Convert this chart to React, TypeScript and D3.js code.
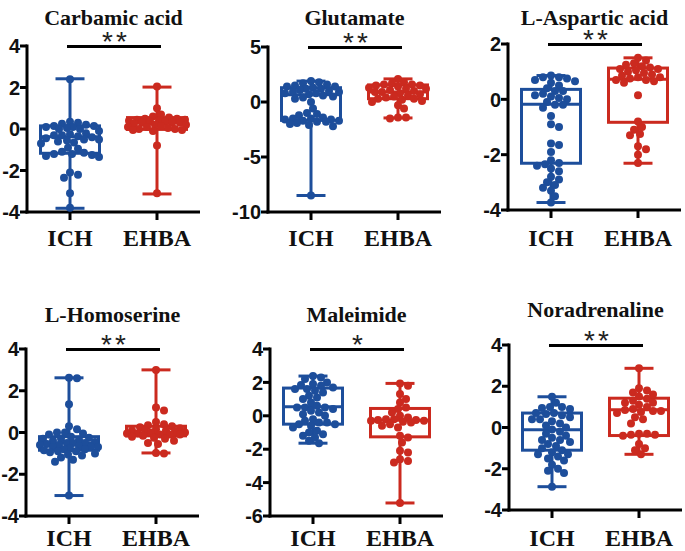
import React from 'react';
import * as d3 from 'd3';

const titles = ['Carbamic acid', 'Glutamate', 'L-Aspartic acid', 'L-Homoserine', 'Maleimide', 'Noradrenaline'];
const groups = ['ICH', 'EHBA'];
const significance = ['**', '**', '**', '**', '*', '**'];
const yDomains = [[-4, 4], [-10, 5], [-4, 2], [-4, 4], [-6, 4], [-4, 4]];
const yTicks = [[-4, -2, 0, 2, 4], [-10, -5, 0, 5], [-4, -2, 0, 2], [-4, -2, 0, 2, 4], [-6, -4, -2, 0, 2, 4], [-4, -2, 0, 2, 4]];

// box stats: [min, q1, median, q3, max]
const ichStats = [
  [-3.82, -1.17, -0.37, 0.15, 2.42],
  [-8.5, -1.67, 0.67, 1.3, 1.9],
  [-3.73, -2.31, -0.18, 0.36, 0.86],
  [-3.02, -0.85, -0.5, -0.2, 2.62],
  [-1.64, -0.5, 0.54, 1.66, 2.38],
  [-2.87, -1.1, -0.11, 0.7, 1.49],
];
const ehbaStats = [
  [-3.13, -0.02, 0.3, 0.55, 2.02],
  [-1.45, 0.3, 0.9, 1.55, 2.1],
  [-2.31, -0.83, 0.73, 1.13, 1.5],
  [-0.98, -0.16, -0.05, 0.3, 3.0],
  [-5.22, -1.26, -0.26, 0.44, 1.94],
  [-1.3, -0.39, 0.86, 1.42, 2.87],
];

const ichValues = [
  [2.4, -3.8, -3.1, -2.35, -2.2, -2.1, -1.35, -1.3, -1.25, -1.2, -1.2, -1.15, -1.1, -0.95, -0.9, -0.7, -0.65, -0.6, -0.55, -0.5, -0.5, -0.45, -0.4, -0.35, -0.3, -0.3, -0.25, -0.2, -0.1, 0.0, 0.0, 0.05, 0.1, 0.1, 0.15, 0.15, 0.2, 0.25, 0.3, 0.35],
  [-8.5, 1.9, 1.8, 1.7, 1.6, 1.5, 1.4, 1.3, 1.2, 1.1, 1.0, 0.9, 0.8, 0.7, 0.6, 0.5, 0.4, 0.3, 0.0, -1.0, -1.2, -1.1, -1.4, -1.5, -1.6, -1.6, -1.7, -1.7, -1.8, -1.8, -1.9, -2.0, -2.1, -2.2, -0.6, 1.2, 0.9, 1.4, 0.8, -1.5],
  [0.86, 0.8, 0.75, 0.7, 0.65, 0.6, 0.5, 0.4, 0.3, 0.2, 0.15, 0.1, 0.05, 0.0, -0.1, -0.2, -0.3, -0.6, -0.9, -1.0, -1.6, -1.65, -1.9, -2.2, -2.3, -2.35, -2.4, -2.5, -2.6, -2.8, -2.9, -3.0, -3.1, -3.2, -3.3, -3.5, -3.73, 0.8, 0.3, -0.2],
  [2.62, 2.6, 1.35, 0.3, 0.15, 0.0, 0.0, -0.05, -0.1, -0.2, -0.25, -0.3, -0.35, -0.4, -0.45, -0.5, -0.5, -0.55, -0.6, -0.6, -0.65, -0.7, -0.7, -0.75, -0.8, -0.8, -0.85, -0.9, -0.95, -1.0, -1.05, -1.1, -1.2, -1.3, -1.4, -3.02, -0.5, -0.7, -0.3, -0.9],
  [2.38, 2.3, 2.2, 2.0, 1.9, 1.85, 1.8, 1.7, 1.6, 1.5, 1.4, 1.2, 1.1, 1.0, 0.8, 0.6, 0.5, 0.5, 0.4, 0.3, 0.2, 0.1, 0.0, -0.2, -0.3, -0.4, -0.5, -0.5, -0.6, -0.7, -0.9, -1.0, -1.1, -1.2, -1.3, -1.5, -1.64, 1.6, 0.5, -0.4],
  [1.49, 1.2, 1.0, 1.0, 0.95, 0.9, 0.7, 0.65, 0.6, 0.5, 0.4, 0.3, 0.2, 0.1, 0.0, -0.1, -0.2, -0.3, -0.4, -0.5, -0.6, -0.7, -0.8, -0.9, -1.0, -1.1, -1.2, -1.3, -1.4, -1.5, -1.6, -1.8, -2.0, -2.1, -2.2, -2.87, 0.7, -0.6, -1.3, 0.4],
];
const ehbaValues = [
  [2.05, 1.0, 0.7, 0.6, 0.55, 0.5, 0.5, 0.45, 0.45, 0.4, 0.4, 0.35, 0.35, 0.3, 0.3, 0.25, 0.2, 0.2, 0.15, 0.1, 0.1, 0.05, 0.0, 0.0, -0.05, -0.05, -0.1, -0.8, -3.1, 0.3],
  [2.1, 1.8, 1.7, 1.6, 1.5, 1.5, 1.4, 1.3, 1.2, 1.1, 1.0, 0.9, 0.8, 0.7, 0.6, 0.5, 0.4, 0.3, 0.3, 0.2, 0.1, 0.0, -0.3, -0.6, -1.4, -1.4, -1.5, 1.6, 1.2, 0.9],
  [1.5, 1.4, 1.3, 1.25, 1.2, 1.15, 1.1, 1.05, 1.0, 0.95, 0.9, 0.85, 0.8, 0.75, 0.7, 0.65, 0.6, 0.15, -0.8, -1.0, -1.1, -1.25, -1.3, -1.7, -1.8, -2.0, -2.3, 1.1, 0.8, 0.7],
  [3.0, 1.2, 1.05, 0.5, 0.4, 0.35, 0.3, 0.25, 0.2, 0.15, 0.1, 0.1, 0.05, 0.0, 0.0, -0.05, -0.05, -0.1, -0.1, -0.15, -0.2, -0.25, -0.3, -0.4, -0.5, -0.55, -0.98, -1.0, 0.1, -0.1],
  [1.94, 1.8, 1.3, 1.0, 0.8, 0.5, 0.4, 0.2, 0.0, -0.1, -0.2, -0.2, -0.25, -0.3, -0.3, -0.35, -0.4, -0.5, -0.6, -0.7, -1.2, -1.3, -1.6, -2.1, -2.2, -2.6, -2.7, -2.8, -5.22, -0.25],
  [2.87, 1.9, 1.8, 1.7, 1.6, 1.5, 1.4, 1.3, 1.2, 1.1, 1.0, 0.9, 0.85, 0.8, 0.75, 0.7, 0.5, 0.4, 0.2, -0.3, -0.3, -0.35, -0.35, -0.4, -0.8, -1.0, -1.1, -1.3, 1.2, 0.8],
];

const groupColors = ['#1d4e9b', '#cb2a1f'];

// layout (pixel geometry of each panel)
const layout = [
  { axisX: 27, yTop: 46, yBottom: 212, titleY: 25, labelY: 246 },
  { axisX: 268, yTop: 47, yBottom: 212, titleY: 25, labelY: 246 },
  { axisX: 508, yTop: 44, yBottom: 210, titleY: 25, labelY: 246 },
  { axisX: 26, yTop: 349, yBottom: 516, titleY: 322, labelY: 546 },
  { axisX: 270, yTop: 349, yBottom: 516, titleY: 322, labelY: 546 },
  { axisX: 509, yTop: 345, yBottom: 510, titleY: 317, labelY: 546 },
];

const R = 4;
const HALF = 29;

function swarm(values: number[], y: (v: number) => number, cx: number) {
  const pts = values.map((v) => ({ v, py: y(v), px: cx }));
  pts.sort((a, b) => a.py - b.py);
  const placed: { px: number; py: number }[] = [];
  const minD = 2 * R * 0.85;
  for (const p of pts) {
    let best = 0;
    let found = false;
    const step = 2;
    for (let k = 0; k <= HALF; k += step) {
      for (const s of k === 0 ? [0] : [k, -k]) {
        const x = cx + s;
        const ok = placed.every((q) => Math.hypot(q.px - x, q.py - p.py) >= minD);
        if (ok) { best = s; found = true; break; }
      }
      if (found) break;
    }
    if (!found) {
      let bestScore = -1;
      for (let s = -HALF; s <= HALF; s += 1) {
        const x = cx + s;
        const m = d3.min(placed, (q) => Math.hypot(q.px - x, q.py - p.py)) ?? 99;
        if (m > bestScore) { bestScore = m; best = s; }
      }
    }
    p.px = cx + best;
    placed.push({ px: p.px, py: p.py });
  }
  return pts;
}

function Panel({ i }: { i: number }) {
  const L = layout[i];
  const y = d3.scaleLinear().domain(yDomains[i]).range([L.yBottom, L.yTop]);
  const x = d3.scalePoint().domain(groups).range([L.axisX + 43, L.axisX + 130]);
  const xEnd = L.axisX + 173;
  const stats = [ichStats[i], ehbaStats[i]];
  const vals = [ichValues[i], ehbaValues[i]];
  const sigX1 = (x('ICH') as number) - 3;
  const sigX2 = (x('EHBA') as number) + 4;
  return (
    <g>
      <text x={(L.axisX + xEnd) / 2} y={L.titleY} textAnchor="middle"
        style={{ font: 'bold 22px "Liberation Serif", "Times New Roman", serif' }} fill="#111">{titles[i]}</text>
      {/* significance */}
      <line x1={sigX1} x2={sigX2} y1={L.yTop + 0.5} y2={L.yTop + 0.5} stroke="#000" strokeWidth={3} />
      <text x={(sigX1 + sigX2) / 2 + 2} y={L.yTop + 5} textAnchor="middle" letterSpacing={3}
        style={{ font: '28px "Liberation Sans", Arial, sans-serif' }} fill="#222">{significance[i]}</text>
      {/* axes */}
      <line x1={L.axisX} x2={L.axisX} y1={L.yTop - 1.5} y2={L.yBottom + 1.5} stroke="#000" strokeWidth={3} />
      <line x1={L.axisX - 1.5} x2={xEnd} y1={L.yBottom} y2={L.yBottom} stroke="#000" strokeWidth={3} />
      {yTicks[i].map((t) => (
        <g key={t}>
          <line x1={L.axisX - 7} x2={L.axisX} y1={y(t)} y2={y(t)} stroke="#000" strokeWidth={3} />
          <text x={L.axisX - 7} y={y(t)} dy="0.36em" textAnchor="end"
            style={{ font: 'bold 20px "Liberation Sans", Arial, sans-serif' }} fill="#111">{t}</text>
        </g>
      ))}
      {groups.map((g) => (
        <g key={g}>
          <line x1={x(g)} x2={x(g)} y1={L.yBottom} y2={L.yBottom + 8} stroke="#000" strokeWidth={3} />
          <text x={x(g)} y={L.labelY} textAnchor="middle"
            style={{ font: 'bold 24px "Liberation Serif", "Times New Roman", serif' }} fill="#111">{g}</text>
        </g>
      ))}
      {groups.map((g, gi) => {
        const cx = x(g) as number;
        const [mn, q1, md, q3, mx] = stats[gi];
        const col = groupColors[gi];
        const pts = swarm(vals[gi], y, cx);
        return (
          <g key={'b' + g}>
            <line x1={cx} x2={cx} y1={y(mx)} y2={y(q3)} stroke={col} strokeWidth={3} />
            <line x1={cx} x2={cx} y1={y(q1)} y2={y(mn)} stroke={col} strokeWidth={3} />
            <line x1={cx - 14.5} x2={cx + 14.5} y1={y(mx)} y2={y(mx)} stroke={col} strokeWidth={3} />
            <line x1={cx - 14.5} x2={cx + 14.5} y1={y(mn)} y2={y(mn)} stroke={col} strokeWidth={3} />
            <rect x={cx - 29.5} y={y(q3)} width={59} height={y(q1) - y(q3)} fill="none" stroke={col} strokeWidth={3} />
            <line x1={cx - 29.5} x2={cx + 29.5} y1={y(md)} y2={y(md)} stroke={col} strokeWidth={3} />
            {pts.map((p, k) => (
              <circle key={k} cx={p.px} cy={p.py} r={R} fill={col} />
            ))}
          </g>
        );
      })}
    </g>
  );
}

export default function App() {
  return (
    <svg width={685} height={551} style={{ position: 'absolute', left: 0, top: 0, background: '#fff' }}>
      <rect width={685} height={551} fill="#fff" />
      {titles.map((_, i) => <Panel key={i} i={i} />)}
    </svg>
  );
}
